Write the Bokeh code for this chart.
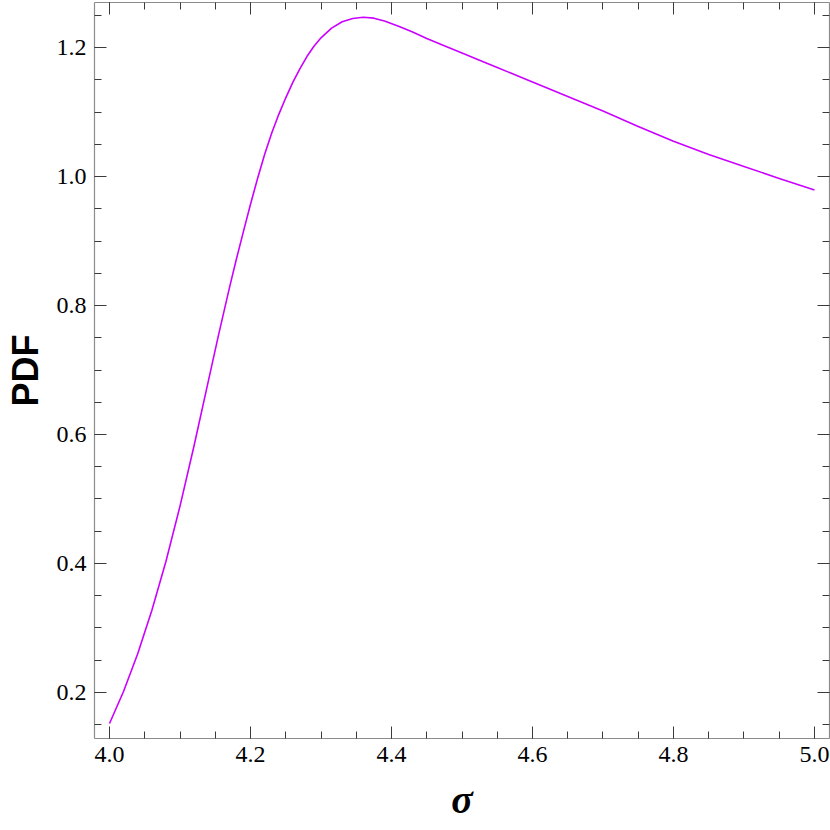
from bokeh.plotting import figure
from bokeh.models import LinearAxis, FixedTicker, PrintfTickFormatter, Range1d
from bokeh.embed import file_html
from bokeh.resources import INLINE

# ---- data ----
sigma = [4.00, 4.02, 4.04, 4.06, 4.08, 4.10, 4.12, 4.14, 4.155, 4.17, 4.18,
         4.19, 4.20, 4.21, 4.22, 4.23, 4.24, 4.25, 4.26, 4.27, 4.28, 4.29,
         4.30, 4.315, 4.33, 4.345, 4.36, 4.375, 4.39, 4.41, 4.43, 4.45, 4.48,
         4.50, 4.53, 4.55, 4.60, 4.65, 4.70, 4.75, 4.80, 4.85, 4.90, 4.95, 5.00]
pdf = [0.152, 0.202, 0.260, 0.327, 0.403, 0.489, 0.583, 0.682, 0.756, 0.827, 0.872,
       0.915, 0.957, 0.997, 1.034, 1.067, 1.096, 1.122, 1.146, 1.167, 1.186, 1.202,
       1.215, 1.230, 1.240, 1.245, 1.247, 1.2455, 1.241, 1.233, 1.224, 1.214, 1.2005,
       1.1915, 1.178, 1.169, 1.1465, 1.124, 1.1015, 1.0775, 1.0545, 1.034, 1.0155,
       0.997, 0.979]

x_major = [4.0, 4.2, 4.4, 4.6, 4.8, 5.0]
x_minor = [round(4.0 + 0.05 * i, 2) for i in range(21)]
y_major = [0.2, 0.4, 0.6, 0.8, 1.0, 1.2]
y_minor = [round(0.15 + 0.05 * i, 2) for i in range(23)]

x_label = "σ"
y_label = "PDF"

FRAME = "#8c8c8c"
TICK = "#3a3a3a"
SERIF = "'Liberation Serif'"
SANS = "'Liberation Sans'"

p = figure(width=830, height=830, output_backend="svg", toolbar_location=None,
           x_range=Range1d(3.9787, 5.0213), y_range=Range1d(0.12868, 1.26977),
           x_axis_type=None, y_axis_type=None,
           min_border_left=94, min_border_right=1, min_border_top=2, min_border_bottom=92)
p.outline_line_color = None
p.background_fill_color = "white"
p.border_fill_color = "white"
p.grid.visible = False

def make_axis(ticks, minors, show_labels):
    ax = LinearAxis(ticker=FixedTicker(ticks=ticks, minor_ticks=minors),
                    formatter=PrintfTickFormatter(format="%.1f"))
    ax.axis_line_color = FRAME
    ax.axis_line_width = 1.2
    ax.major_tick_line_color = TICK
    ax.minor_tick_line_color = TICK
    ax.major_tick_in = 12
    ax.major_tick_out = 0
    ax.minor_tick_in = 7
    ax.minor_tick_out = 0
    if show_labels:
        ax.major_label_text_font = SERIF
        ax.major_label_text_font_size = "24px"
        ax.major_label_text_color = "black"
        ax.major_label_standoff = 8
    else:
        ax.major_label_text_font_size = "0px"
        ax.major_label_standoff = 0
    return ax

xb = make_axis(x_major, x_minor, True)
xb.axis_label = x_label
xb.axis_label_text_font = SERIF
xb.axis_label_text_font_style = "bold italic"
xb.axis_label_text_font_size = "40px"
xb.axis_label_text_color = "black"
xb.axis_label_standoff = 12

yl = make_axis(y_major, y_minor, True)
yl.axis_label = y_label
yl.axis_label_text_font = SANS
yl.axis_label_text_font_style = "bold"
yl.axis_label_text_font_size = "36px"
yl.axis_label_text_color = "black"
yl.axis_label_standoff = 8

p.add_layout(xb, "below")
p.add_layout(yl, "left")
p.add_layout(make_axis(x_major, x_minor, False), "above")
p.add_layout(make_axis(y_major, y_minor, False), "right")

p.line(sigma, pdf, line_color="#CC00FF", line_width=1.6, line_join="round")

open("out.html", "w").write(file_html(p, INLINE))
